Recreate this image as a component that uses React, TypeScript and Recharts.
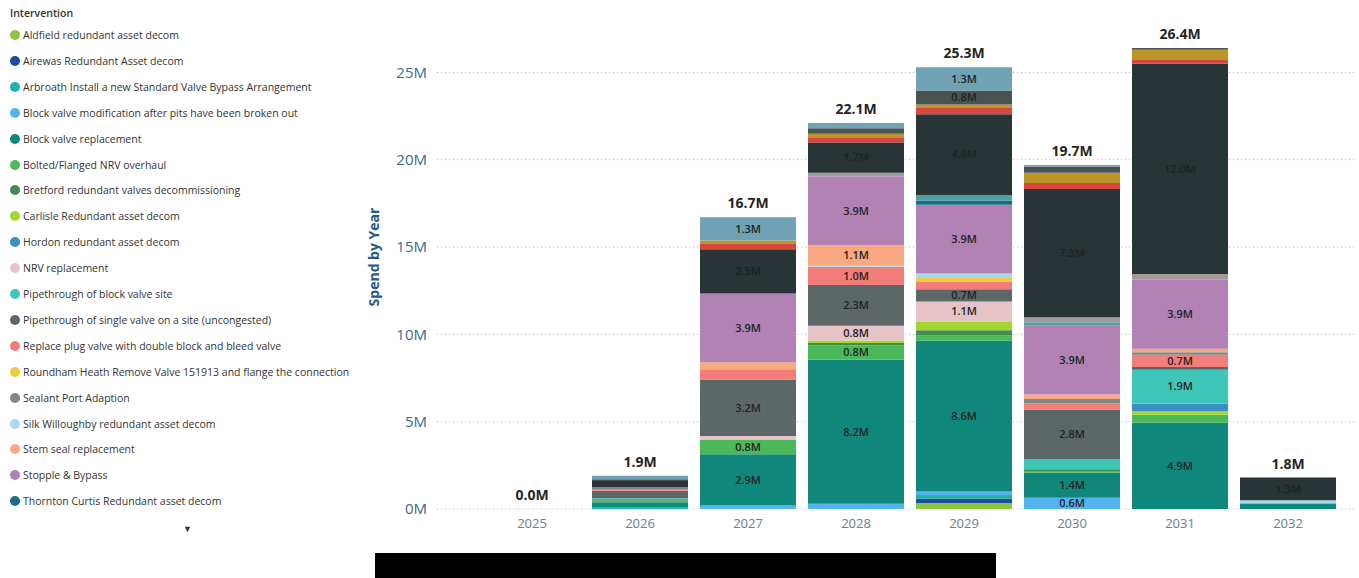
import { ComposedChart, Bar, Line, XAxis, YAxis, CartesianGrid, LabelList } from "recharts";

const years = ["2025", "2026", "2027", "2028", "2029", "2030", "2031", "2032"];
const yTicks = [0, 5, 10, 15, 20, 25];

// values in £M per year, 2025..2032, in stacking order (bottom first)
const aldfield = [0, 0, 0, 0, 0.35, 0, 0, 0];
const airewas = [0, 0, 0, 0, 0.25, 0, 0, 0];
const arbroath = [0, 0.08, 0, 0, 0.2, 0, 0, 0];
const blockValveMod = [0, 0, 0.2, 0.3, 0.2, 0.64, 0, 0];
const blockValveRepl = [0, 0.3, 2.94, 8.24, 8.64, 1.44, 4.94, 0.3];
const boltedNrv = [0, 0.1, 0.84, 0.84, 0.3, 0.1, 0.45, 0];
const bretford = [0, 0.08, 0, 0.12, 0.3, 0.1, 0, 0];
const carlisle = [0, 0, 0, 0.15, 0.5, 0, 0.2, 0];
const hordon = [0, 0, 0, 0, 0, 0, 0.45, 0];
const nrvRepl = [0, 0, 0.2, 0.84, 1.14, 0, 0, 0];
const pipeBlock = [0, 0.06, 0, 0, 0, 0.58, 1.94, 0.05];
const pipeSingle = [0, 0.42, 3.24, 2.34, 0.7, 2.84, 0.15, 0];
const replacePlug = [0, 0.1, 0.58, 1.04, 0.45, 0.35, 0.7, 0];
const roundham = [0, 0, 0, 0, 0.2, 0, 0, 0];
const sealantPort = [0, 0.1, 0, 0, 0, 0.25, 0.15, 0];
const silkWilloughby = [0, 0, 0, 0.1, 0.25, 0, 0, 0.15];
const stemSeal = [0, 0, 0.4, 1.14, 0, 0.25, 0.2, 0];
const stopple = [0, 0, 3.94, 3.94, 3.94, 3.94, 3.94, 0];
const thornton = [0, 0, 0, 0, 0.25, 0, 0, 0];
// series further down the scrolled legend
const tyersal = [0, 0, 0, 0, 0.3, 0.2, 0, 0];
const valveActuator = [0, 0, 0, 0.2, 0, 0.29, 0.34, 0];
const valveReplacement = [0, 0.36, 2.54, 1.74, 4.64, 7.34, 12.04, 1.3];
const valveStem = [0, 0, 0.3, 0.25, 0.35, 0.35, 0.25, 0];
const ventValve = [0, 0, 0.2, 0.25, 0.2, 0.58, 0.55, 0];
const wallThickness = [0, 0.1, 0, 0.31, 0.8, 0.35, 0.1, 0];
const wareham = [0, 0.2, 1.32, 0.3, 1.34, 0.1, 0, 0];

const series = [
  { key: "aldfield", name: "Aldfield redundant asset decom", color: "#8cc63f", values: aldfield },
  { key: "airewas", name: "Airewas Redundant Asset decom", color: "#1b4f9c", values: airewas },
  { key: "arbroath", name: "Arbroath Install a new Standard Valve Bypass Arrangement", color: "#1fb3a4", values: arbroath },
  { key: "bvmod", name: "Block valve modification after pits have been broken out", color: "#55b4f0", values: blockValveMod },
  { key: "bvrepl", name: "Block valve replacement", color: "#0f887b", values: blockValveRepl },
  { key: "bolted", name: "Bolted/Flanged NRV overhaul", color: "#4bb85a", values: boltedNrv },
  { key: "bretford", name: "Bretford redundant valves decommissioning", color: "#3d8d4d", values: bretford },
  { key: "carlisle", name: "Carlisle Redundant asset decom", color: "#a6d62b", values: carlisle },
  { key: "hordon", name: "Hordon redundant asset decom", color: "#3a8fc2", values: hordon },
  { key: "nrv", name: "NRV replacement", color: "#e6c3c6", values: nrvRepl },
  { key: "pipeblock", name: "Pipethrough of block valve site", color: "#3ec7b9", values: pipeBlock },
  { key: "pipesingle", name: "Pipethrough of single valve on a site (uncongested)", color: "#5d6767", values: pipeSingle },
  { key: "replace", name: "Replace plug valve with double block and bleed valve", color: "#f37d78", values: replacePlug },
  { key: "roundham", name: "Roundham Heath Remove Valve 151913 and flange the connection", color: "#f3c93d", values: roundham },
  { key: "sealant", name: "Sealant Port Adaption", color: "#7f8787", values: sealantPort },
  { key: "silk", name: "Silk Willoughby redundant asset decom", color: "#a7daec", values: silkWilloughby },
  { key: "stem", name: "Stem seal replacement", color: "#f9a881", values: stemSeal },
  { key: "stopple", name: "Stopple & Bypass", color: "#b282b5", values: stopple },
  { key: "thornton", name: "Thornton Curtis Redundant asset decom", color: "#1c6b8c", values: thornton },
  { key: "tyersal", name: "Tyersal redundant asset decom", color: "#4d9fa3", values: tyersal },
  { key: "actuator", name: "Valve actuator replacement", color: "#a19a9a", values: valveActuator },
  { key: "valverepl", name: "Valve replacement", color: "#283436", values: valveReplacement },
  { key: "valvestem", name: "Valve stem repair", color: "#d8473d", values: valveStem },
  { key: "vent", name: "Vent valve replacement", color: "#bc962a", values: ventValve },
  { key: "wall", name: "Wall thickness survey", color: "#4b5252", values: wallThickness },
  { key: "wareham", name: "Wareham redundant asset decom", color: "#6fa2b5", values: wareham },
];

const legendCount = 19;

const chartData = years.map((year, i) => {
  const row: Record<string, string | number> = { year };
  let total = 0;
  series.forEach((s) => {
    row[s.key] = s.values[i];
    total += s.values[i];
  });
  row.total = total;
  return row;
});

const font = "'Open Sans', 'Noto Sans', sans-serif";

function SegmentLabel(props: any) {
  const { x, y, width, height, value } = props;
  if (value == null || value < 0.6) return null;
  return (
    <text
      x={x + width / 2}
      y={y + height / 2}
      dy="0.35em"
      textAnchor="middle"
      fontSize={11}
      fontWeight={600}
      fill="#222"
      fontFamily={font}
    >
      {`${Number(value).toFixed(1)}M`}
    </text>
  );
}

function TotalLabel(props: any) {
  const { x, y, value } = props;
  return (
    <text x={x} y={y - 9} textAnchor="middle" fontSize={14} fontWeight={700} fill="#252525" fontFamily={font}>
      {`${Number(value).toFixed(1)}M`}
    </text>
  );
}

export default function App() {
  return (
    <div style={{ position: "fixed", left: 0, top: 0, width: 1359, height: 578, background: "#fff", overflow: "hidden", fontFamily: font }}>
      <div style={{ position: "absolute", left: 10, top: 6, fontSize: 10.5, fontWeight: 600, color: "#333" }}>Intervention</div>
      {series.slice(0, legendCount).map((s, i) => (
        <div
          key={s.key}
          style={{ position: "absolute", left: 10, top: 26 + i * 25.9, height: 18, display: "flex", alignItems: "center", fontSize: 10.5, color: "#333", whiteSpace: "nowrap" }}
        >
          <span style={{ display: "inline-block", width: 10, height: 10, borderRadius: 5, background: s.color, marginRight: 3 }} />
          {s.name}
        </div>
      ))}
      <div style={{ position: "absolute", left: 183, top: 522, fontSize: 9, color: "#333" }}>▼</div>

      <div
        style={{
          position: "absolute",
          left: 373,
          top: 257,
          transform: "translate(-50%, -50%) rotate(-90deg)",
          fontSize: 14,
          fontWeight: 700,
          color: "#25588f",
          whiteSpace: "nowrap",
        }}
      >
        Spend by Year
      </div>

      <div style={{ position: "absolute", left: 0, top: 0 }}>
        <ComposedChart
          width={1359}
          height={578}
          data={chartData}
          margin={{ top: 20, right: 4, bottom: 39, left: 360 }}
          barCategoryGap={6}
        >
          <CartesianGrid horizontal vertical={false} horizontalValues={yTicks} stroke="#b5b5b5" strokeDasharray="1 3" />
          <XAxis
            dataKey="year"
            height={30}
            axisLine={false}
            tickLine={false}
            padding={{ left: 41, right: 13 }}
            tick={{ fontSize: 13, fill: "#6a8090", fontFamily: font }}
            tickMargin={4}
          />
          <YAxis
            width={77}
            domain={[0, 28]}
            ticks={yTicks}
            axisLine={false}
            tickLine={false}
            tickMargin={4}
            tickFormatter={(v) => `${v}M`}
            tick={{ fontSize: 15, fill: "#3b6a8c", fontFamily: font }}
          />
          {series.map((s) => (
            <Bar key={s.key} dataKey={s.key} name={s.name} stackId="a" fill={s.color} isAnimationActive={false}>
              <LabelList dataKey={s.key} content={SegmentLabel} />
            </Bar>
          ))}
          <Line dataKey="total" stroke="none" dot={false} activeDot={false} legendType="none" isAnimationActive={false}>
            <LabelList dataKey="total" content={TotalLabel} />
          </Line>
        </ComposedChart>
      </div>

      <div style={{ position: "absolute", left: 375, top: 553, width: 621, height: 25, background: "#000" }} />
    </div>
  );
}
